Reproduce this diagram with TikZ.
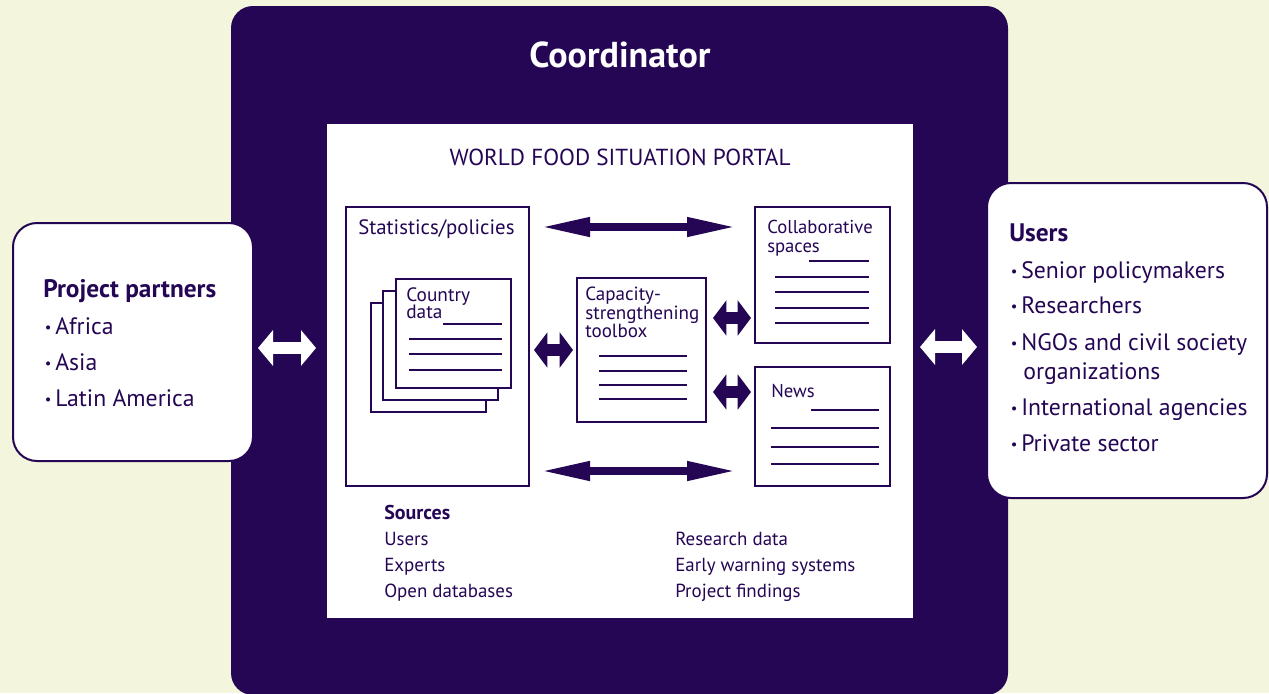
\documentclass[tikz,border=0pt]{standalone}
\usepackage{fontspec}
\setmainfont{PT Sans}
\usetikzlibrary{arrows.meta,fit}
\definecolor{bgc}{HTML}{F3F6DC}
\definecolor{purp}{HTML}{240654}
\newcommand\fsz[1]{\fontsize{#1}{#1}\selectfont}
\newcommand\bul{\makebox[9pt][l]{\hspace{1.2pt}\raisebox{0.9pt}{\fontsize{11pt}{11pt}\selectfont •}}}
\begin{document}
\begin{tikzpicture}[x=0.75pt,y=-0.75pt,
  area/.style={inner sep=0pt,outer sep=0pt},
  pbox/.style={area,draw=purp,line width=1.5pt,fill=white},
  sidebox/.style={area,draw=purp,line width=1.5pt,fill=white,rounded corners=18pt},
  txt/.style={text=purp,inner sep=0pt,anchor=base west},
  rule/.style={draw=purp,line width=1.5pt},
  whitearrow/.style={draw=white,line width=9pt,{Triangle[length=11.25pt,width=26.25pt]}-{Triangle[length=11.25pt,width=26.25pt]}},
  longarrow/.style={draw=purp,line width=5.5pt,{Triangle[length=36.75pt,width=13.5pt]}-{Triangle[length=36.75pt,width=13.5pt]}},
  shortarrow/.style={draw=purp,line width=9.5pt,{Triangle[length=10pt,width=26pt]}-{Triangle[length=10pt,width=26pt]}}
]
\useasboundingbox (0,0) rectangle (1269,693);
\fill[bgc] (0,0) rectangle (1269,693);

% coordinator frame
\node[area,fill=purp,rounded corners=16.5pt,fit={(231,6)(1008,695)}] (coord) {};
\node[text=white,inner sep=0pt,anchor=base] (coordlbl) at (620,67) {\fsz{27pt}\bfseries Coordinator};

% portal
\node[area,fill=white,fit={(327,124)(913,618)}] (portal) {};
\node[text=purp,inner sep=0pt,anchor=base] (title) at (620,165) {\fsz{17.4pt}WORLD FOOD SITUATION PORTAL};

% statistics box
\node[pbox,fit={(346,207)(529,486)}] (stats) {};
\node[txt] (statslbl) at (358,234) {\fsz{15.6pt}Statistics/policies};
\node[pbox,fit={(371,303)(486,412)}] (page3) {};
\node[pbox,fit={(383,291)(498,400)}] (page2) {};
\node[pbox,fit={(396,279)(511,388)}] (page1) {};
\node[txt] (cd1) at (406,301) {\fsz{14.5pt}Country};
\node[txt] (cd2) at (406,318) {\fsz{14.5pt}data};
\draw[rule] (443,324) -- (502,324);
\draw[rule] (409,339) -- (502,339);
\draw[rule] (409,354) -- (502,354);
\draw[rule] (409,370) -- (502,370);

% capacity box
\node[pbox,fit={(577,278)(706,422)}] (cap) {};
\node[txt] (cap1) at (585,300) {\fsz{14.3pt}Capacity-};
\node[txt] (cap2) at (585,319) {\fsz{14.3pt}strengthening};
\node[txt] (cap3) at (585,337) {\fsz{14.3pt}toolbox};
\draw[rule] (599,356) -- (687,356);
\draw[rule] (599,371) -- (687,371);
\draw[rule] (599,385) -- (687,385);
\draw[rule] (599,399) -- (687,399);

% collaborative box
\node[pbox,fit={(755,207)(890,343)}] (collab) {};
\node[txt] (col1) at (767,233) {\fsz{14pt}Collaborative};
\node[txt] (col2) at (767,252) {\fsz{14pt}spaces};
\draw[rule] (809,261) -- (869,261);
\draw[rule] (775,277) -- (869,277);
\draw[rule] (775,292) -- (869,292);
\draw[rule] (775,308) -- (869,308);
\draw[rule] (775,323) -- (869,323);

% news box
\node[pbox,fit={(755,367)(890,486)}] (news) {};
\node[txt] (newslbl) at (771,397) {\fsz{14pt}News};
\draw[rule] (811,410) -- (879,410);
\draw[rule] (771,428) -- (879,428);
\draw[rule] (771,447) -- (879,447);
\draw[rule] (771,464) -- (879,464);

% arrows inside portal
\coordinate (ta1) at (541,227); \coordinate (ta2) at (736,227);
\coordinate (ba1) at (541,471); \coordinate (ba2) at (736,471);
\draw[longarrow] (ta1) -- (ta2);
\draw[longarrow] (ba1) -- (ba2);
\coordinate (sa1) at (534,350); \coordinate (sa2) at (573,350);
\draw[shortarrow] (sa1) -- (sa2);
\coordinate (ca1) at (713,318); \coordinate (ca2) at (751,318);
\draw[shortarrow] (ca1) -- (ca2);
\coordinate (na1) at (713,392); \coordinate (na2) at (751,392);
\draw[shortarrow] (na1) -- (na2);

% sources
\node[txt] (src) at (384,519) {\fsz{15pt}\bfseries Sources};
\node[txt] (s1) at (384,545) {\fsz{14.2pt}Users};
\node[txt] (s2) at (384,571) {\fsz{14.2pt}Experts};
\node[txt] (s3) at (384,597) {\fsz{14.2pt}Open databases};
\node[txt] (s4) at (675,545) {\fsz{14.2pt}Research data};
\node[txt] (s5) at (675,571) {\fsz{14.2pt}Early warning systems};
\node[txt] (s6) at (675,597) {\fsz{14.2pt}Project findings};

% partners
\node[sidebox,fit={(13,223)(253,461)}] (partners) {};
\node[txt] (p0) at (43,297) {\fsz{19pt}\bfseries Project partners};
\node[txt] (p1) at (43,334) {\fsz{17.8pt}\bul Africa};
\node[txt] (p2) at (43,370) {\fsz{17.8pt}\bul Asia};
\node[txt] (p3) at (43,406) {\fsz{17.8pt}\bul Latin America};

% users
\node[sidebox,fit={(987,183)(1267,498)}] (users) {};
\node[txt] (u0) at (1009,241) {\fsz{19pt}\bfseries Users};
\node[txt] (u1) at (1009,278) {\fsz{17.8pt}\bul Senior policymakers};
\node[txt] (u2) at (1009,313) {\fsz{17.8pt}\bul Researchers};
\node[txt] (u3) at (1009,350) {\fsz{17.8pt}\bul NGOs and civil society};
\node[txt] (u3b) at (1023,379) {\fsz{17.8pt}organizations};
\node[txt] (u4) at (1009,415) {\fsz{17.8pt}\bul International agencies};
\node[txt] (u5) at (1009,451) {\fsz{17.8pt}\bul Private sector};

% white arrows
\coordinate (wl1) at (258,348); \coordinate (wl2) at (316,348);
\draw[whitearrow] (wl1) -- (wl2);
\coordinate (wr1) at (920,347); \coordinate (wr2) at (977,347);
\draw[whitearrow] (wr1) -- (wr2);
\end{tikzpicture}
\end{document}
